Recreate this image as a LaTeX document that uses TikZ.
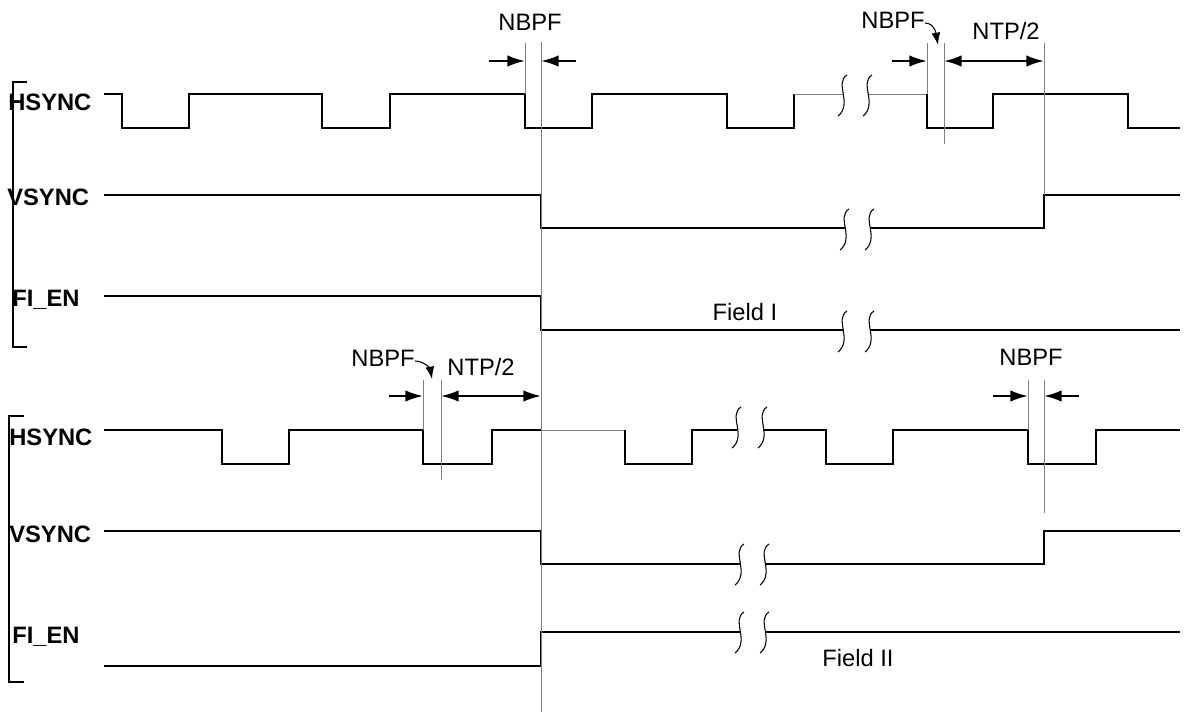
\documentclass[tikz,border=0pt]{standalone}
\usepackage{fontspec}
\setmainfont{Liberation Sans}
\usetikzlibrary{arrows.meta}

\tikzstyle{sig} = [line width=1.1pt]
\tikzstyle{guide} = [gray, line width=0.5pt]
\tikzstyle{dim} = [line width=1.2pt, -{Latex[length=10pt,width=6.5pt]}]
\tikzstyle{dimboth} = [line width=1.2pt, {Latex[length=10pt,width=6.5pt]}-{Latex[length=10pt,width=6.5pt]}]
\tikzstyle{hook} = [line width=0.6pt, -{Latex[length=7pt,width=5pt]}]
\tikzstyle{siglbl} = [font=\bfseries\fontsize{13.5}{15}\selectfont, anchor=west, inner sep=0]
\tikzstyle{txt} = [font=\fontsize{13.5}{15}\selectfont, inner sep=0]
\tikzset{brk/.pic={\draw[line width=0.6pt] (4,-20) .. controls (-9,-12) and (10,9) .. (-5,21);}}

\begin{document}
\begin{tikzpicture}[x=0.02cm,y=-0.02cm]
	\useasboundingbox (0,0) rectangle (1194,713);

	% field I
	\draw[line width=1.1pt] (27,82) -| (13,347) -- (27,347);
	\node[siglbl] (hs1) at (8,102) {HSYNC};
	\node[siglbl] (vs1) at (7,197) {VSYNC};
	\node[siglbl] (fi1) at (12,300) {FI\_EN};

	\draw[sig] (104,94) -- (122,94) -- (122,128) -- (189,128) -- (189,94) -- (322,94) -- (322,128) -- (390,128) -- (390,94) -- (525,94) -- (525,128) -- (592,128) -- (592,94) -- (727,94) -- (727,128) -- (794,128) -- (794,94);
	\draw[guide] (794,94) -- (843,94);
	\draw[guide] (868,94) -- (927,94);
	\draw[sig] (927,94) -- (927,128) -- (993,128) -- (993,94) -- (1128,94) -- (1128,128) -- (1180,128);
	\draw[sig] (104,195) -- (541,195) -- (541,228) -- (845,228);
	\draw[sig] (870,228) -- (1044,228) -- (1044,195) -- (1180,195);
	\draw[sig] (104,296) -- (541,296) -- (541,330) -- (843,330);
	\draw[sig] (870,330) -- (1180,330);
	\pic at (843,95) {brk};
	\pic at (868,95) {brk};
	\pic at (845,229) {brk};
	\pic at (870,229) {brk};
	\pic at (843,331) {brk};
	\pic at (870,331) {brk};
	\node[txt] (f1) at (745,312) {Field I};

	% field II
	\draw[line width=1.1pt] (24,416) -| (9,682) -- (24,682);
	\node[siglbl] (hs2) at (9,437) {HSYNC};
	\node[siglbl] (vs2) at (9,534) {VSYNC};
	\node[siglbl] (fi2) at (12,637) {FI\_EN};

	\draw[sig] (104,430) -- (222,430) -- (222,464) -- (289,464) -- (289,430) -- (423,430) -- (423,464) -- (492,464) -- (492,430) -- (541,430);
	\draw[guide] (541,430) -- (625,430);
	\draw[sig] (625,430) -- (625,464) -- (692,464) -- (692,430) -- (737,430);
	\draw[sig] (763,430) -- (826,430) -- (826,464) -- (893,464) -- (893,430) -- (1028,430) -- (1028,464) -- (1096,464) -- (1096,430) -- (1180,430);
	\draw[sig] (104,531) -- (541,531) -- (541,564) -- (740,564);
	\draw[sig] (765,564) -- (1044,564) -- (1044,531) -- (1180,531);
	\draw[sig] (104,666) -- (541,666) -- (541,632) -- (740,632);
	\draw[sig] (765,632) -- (1180,632);
	\pic at (737,427) {brk};
	\pic at (763,427) {brk};
	\pic at (740,564) {brk};
	\pic at (765,564) {brk};
	\pic at (740,632) {brk};
	\pic at (765,632) {brk};
	\node[txt] (f2) at (858,658) {Field II};

	% guides
	\draw[guide] (541,42) -- (541,712);
	\draw[guide] (525,43) -- (525,94);
	\draw[guide] (927,43) -- (927,94);
	\draw[guide] (944,43) -- (944,144);
	\draw[guide] (1044,43) -- (1044,195);
	\draw[guide] (423,380) -- (423,430);
	\draw[guide] (441,380) -- (441,480);
	\draw[guide] (1028,380) -- (1028,430);
	\draw[guide] (1044,380) -- (1044,513);

	% timing marks
	\coordinate (a1) at (489,61);
	\coordinate (a2) at (525,61);
	\coordinate (a3) at (576,61);
	\coordinate (a4) at (541,61);
	\coordinate (b1) at (892,61);
	\coordinate (b2) at (927,61);
	\coordinate (b3) at (944,61);
	\coordinate (b4) at (1044,61);
	\coordinate (c1) at (389,396);
	\coordinate (c2) at (423,396);
	\coordinate (c3) at (441,396);
	\coordinate (c4) at (541,396);
	\coordinate (d1) at (993,396);
	\coordinate (d2) at (1028,396);
	\coordinate (d3) at (1079,396);
	\coordinate (d4) at (1044,396);
	\coordinate (e1) at (938,45);
	\coordinate (e2) at (432,379);

	\draw[dim] (a1) -- (a2);
	\draw[dim] (a3) -- (a4);
	\draw[dim] (b1) -- (b2);
	\draw[dimboth] (b3) -- (b4);
	\draw[dim] (c1) -- (c2);
	\draw[dimboth] (c3) -- (c4);
	\draw[dim] (d1) -- (d2);
	\draw[dim] (d3) -- (d4);

	\node[txt] (n1) at (530,22) {NBPF};
	\node[txt] (n2) at (893,20) {NBPF};
	\node[txt] (t1) at (1006,31) {NTP/2};
	\node[txt] (n3) at (383,358) {NBPF};
	\node[txt] (t2) at (481,367) {NTP/2};
	\node[txt] (n4) at (1031,357) {NBPF};

	\draw[hook] (n2.east) ++(0,3) to[out=0,in=100] (e1);
	\draw[hook] (n3.east) ++(0,3) to[out=0,in=100] (e2);
\end{tikzpicture}
\end{document}
